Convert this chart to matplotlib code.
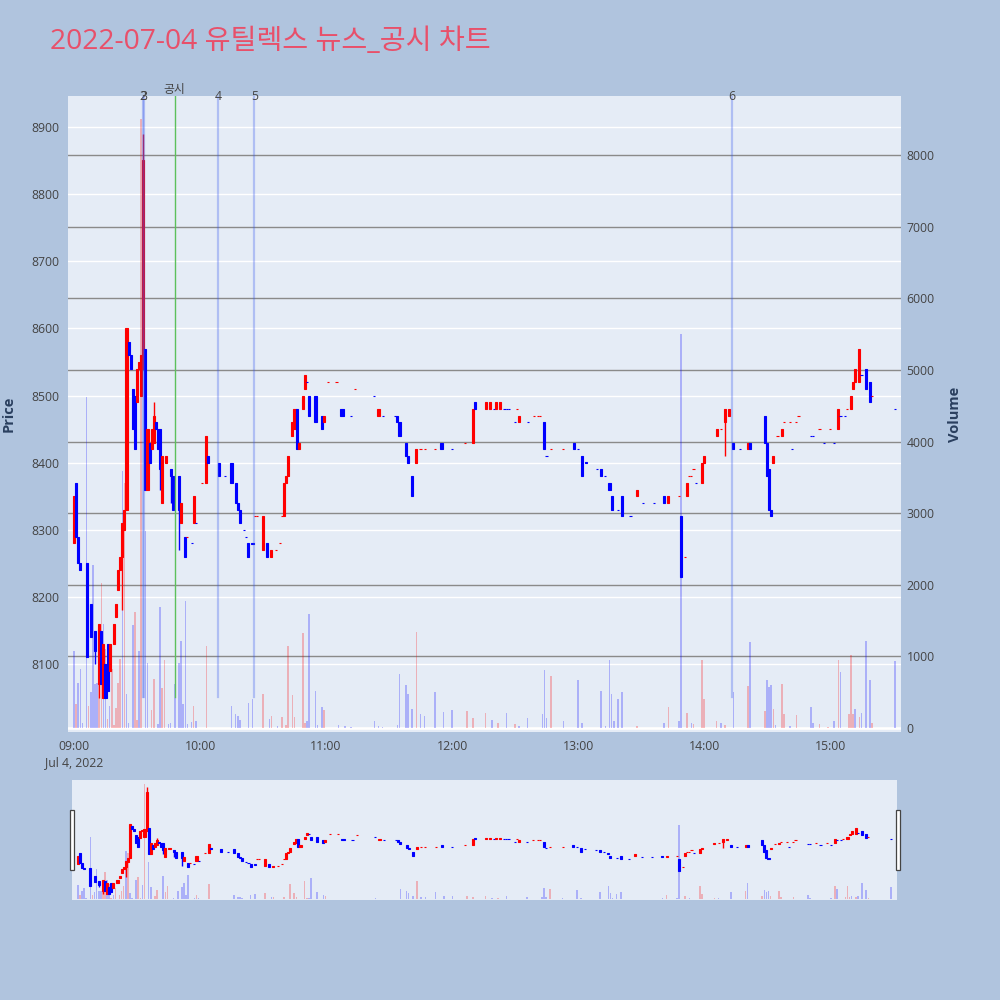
import matplotlib
matplotlib.use("Agg")
import matplotlib.pyplot as plt
from matplotlib import transforms
from matplotlib.patches import Rectangle

plt.rcParams['font.family'] = ['Open Sans', 'Noto Sans CJK KR', 'DejaVu Sans']

title = "2022-07-04 유틸렉스 뉴스_공시 차트"

# candle data: minutes after 09:00
minutes = [0, 1, 2, 3, 6, 8, 10, 12, 13, 14,
           15, 16, 17, 19, 20, 21, 22, 23, 24, 25,
           26, 27, 28, 29, 30, 31, 32, 33, 34, 35,
           36, 37, 38, 39, 40, 41, 42, 44, 46, 47,
           50, 51, 53, 54, 56, 57, 58, 61, 63, 64,
           69, 72, 75, 77, 78, 79, 81, 82, 83, 85,
           86, 87, 90, 92, 94, 96, 98, 99, 100, 101,
           102, 104, 105, 106, 107, 109, 110, 111, 112, 115,
           118, 119, 121, 125, 127, 128, 132, 134, 143, 145,
           147, 153, 154, 155, 158, 159, 161, 163, 165, 167,
           172, 175, 180, 186, 190, 191, 196, 198, 200, 201,
           203, 205, 206, 207, 210, 211, 212, 216, 219, 221,
           222, 224, 225, 227, 233, 238, 240, 242, 244, 249,
           251, 253, 255, 256, 259, 261, 265, 268, 271, 276,
           281, 283, 288, 289, 291, 292, 293, 294, 295, 296,
           299, 300, 306, 308, 310, 312, 314, 317, 321, 322,
           329, 330, 331, 332, 333, 335, 337, 338, 341, 342,
           344, 345, 351, 352, 355, 357, 360, 362, 364, 365,
           367, 368, 370, 371, 372, 374, 375, 377, 379, 380,
           391]
opens = [8280, 8370, 8290, 8250, 8250, 8190, 8150, 8070, 8150, 8050,
         8100, 8130, 8090, 8130, 8170, 8210, 8240, 8260, 8300, 8330,
         8580, 8560, 8510, 8500, 8490, 8540, 8500, 8540, 8570, 8360,
         8430, 8420, 8430, 8460, 8450, 8450, 8340, 8400, 8390, 8380,
         8380, 8310, 8290, 8290, 8280, 8310, 8310, 8370, 8370, 8410,
         8400, 8380, 8400, 8370, 8340, 8330, 8300, 8290, 8280, 8281,
         8320, 8320, 8270, 8280, 8260, 8270, 8280, 8320, 8320, 8370,
         8380, 8440, 8450, 8480, 8420, 8480, 8510, 8520, 8500, 8500,
         8470, 8460, 8520, 8520, 8480, 8480, 8470, 8510, 8500, 8470,
         8470, 8470, 8470, 8460, 8430, 8410, 8380, 8400, 8420, 8420,
         8420, 8430, 8420, 8430, 8430, 8490, 8480, 8480, 8480, 8480,
         8480, 8480, 8480, 8480, 8460, 8480, 8460, 8460, 8470, 8470,
         8470, 8460, 8410, 8420, 8420, 8430, 8420, 8410, 8401, 8390,
         8390, 8380, 8370, 8350, 8330, 8350, 8320, 8350, 8340, 8340,
         8350, 8340, 8350, 8320, 8260, 8350, 8380, 8380, 8390, 8370,
         8370, 8400, 8440, 8450, 8460, 8470, 8430, 8420, 8420, 8430,
         8470, 8430, 8390, 8330, 8400, 8440, 8440, 8460, 8460, 8420,
         8460, 8470, 8440, 8440, 8450, 8430, 8450, 8430, 8450, 8470,
         8470, 8480, 8480, 8510, 8520, 8520, 8530, 8540, 8520, 8500,
         8480]
highs = [8350, 8370, 8290, 8250, 8250, 8190, 8150, 8160, 8150, 8130,
         8100, 8130, 8130, 8160, 8190, 8240, 8260, 8310, 8330, 8600,
         8580, 8560, 8510, 8500, 8540, 8550, 8560, 8890, 8570, 8450,
         8430, 8450, 8490, 8460, 8450, 8450, 8410, 8410, 8390, 8380,
         8380, 8340, 8290, 8290, 8280, 8350, 8310, 8370, 8440, 8410,
         8400, 8380, 8400, 8370, 8340, 8330, 8300, 8290, 8280, 8281,
         8320, 8320, 8320, 8280, 8270, 8270, 8280, 8320, 8370, 8380,
         8410, 8460, 8480, 8480, 8430, 8500, 8530, 8520, 8500, 8500,
         8470, 8470, 8520, 8520, 8480, 8480, 8470, 8510, 8500, 8480,
         8470, 8470, 8470, 8460, 8430, 8410, 8380, 8420, 8420, 8420,
         8420, 8430, 8420, 8430, 8480, 8490, 8490, 8490, 8480, 8490,
         8490, 8480, 8480, 8480, 8460, 8480, 8470, 8460, 8470, 8470,
         8470, 8460, 8410, 8420, 8420, 8430, 8420, 8410, 8401, 8390,
         8390, 8380, 8370, 8350, 8330, 8350, 8320, 8360, 8340, 8340,
         8350, 8350, 8350, 8320, 8260, 8370, 8380, 8380, 8390, 8370,
         8400, 8410, 8450, 8450, 8480, 8480, 8430, 8420, 8430, 8430,
         8470, 8430, 8390, 8330, 8410, 8440, 8450, 8460, 8460, 8420,
         8460, 8470, 8440, 8440, 8450, 8430, 8450, 8430, 8480, 8470,
         8470, 8480, 8500, 8520, 8540, 8570, 8530, 8540, 8520, 8500,
         8480]
lows = [8280, 8290, 8250, 8240, 8110, 8140, 8100, 8050, 8070, 8050,
        8050, 8060, 8090, 8130, 8170, 8210, 8240, 8180, 8300, 8330,
        8560, 8540, 8450, 8420, 8490, 8540, 8500, 8540, 8360, 8360,
        8400, 8420, 8430, 8450, 8420, 8360, 8340, 8400, 8340, 8330,
        8270, 8310, 8260, 8290, 8280, 8310, 8310, 8370, 8370, 8400,
        8380, 8380, 8370, 8340, 8330, 8310, 8300, 8290, 8260, 8279,
        8320, 8320, 8270, 8260, 8260, 8270, 8280, 8320, 8320, 8370,
        8380, 8440, 8450, 8420, 8420, 8480, 8510, 8520, 8470, 8460,
        8450, 8460, 8520, 8520, 8470, 8470, 8470, 8510, 8500, 8470,
        8470, 8470, 8460, 8440, 8410, 8400, 8350, 8400, 8420, 8420,
        8420, 8420, 8420, 8430, 8430, 8480, 8480, 8480, 8480, 8480,
        8480, 8480, 8480, 8480, 8460, 8480, 8460, 8460, 8470, 8470,
        8470, 8420, 8410, 8420, 8420, 8420, 8420, 8380, 8399, 8390,
        8380, 8380, 8360, 8330, 8330, 8320, 8320, 8350, 8340, 8340,
        8340, 8340, 8350, 8230, 8260, 8350, 8380, 8380, 8390, 8370,
        8370, 8400, 8440, 8450, 8410, 8470, 8420, 8420, 8420, 8420,
        8430, 8380, 8330, 8320, 8400, 8440, 8440, 8460, 8460, 8420,
        8460, 8470, 8440, 8440, 8450, 8430, 8450, 8430, 8450, 8470,
        8470, 8480, 8480, 8510, 8520, 8520, 8530, 8510, 8490, 8500,
        8480]
closes = [8350, 8290, 8250, 8240, 8110, 8140, 8120, 8160, 8070, 8130,
          8050, 8060, 8130, 8160, 8190, 8240, 8260, 8310, 8330, 8600,
          8560, 8540, 8450, 8420, 8540, 8550, 8560, 8850, 8360, 8450,
          8400, 8450, 8470, 8450, 8420, 8390, 8410, 8410, 8380, 8330,
          8330, 8340, 8260, 8290, 8280, 8350, 8310, 8370, 8440, 8400,
          8380, 8380, 8370, 8340, 8330, 8310, 8300, 8290, 8260, 8279,
          8320, 8320, 8320, 8260, 8270, 8270, 8280, 8320, 8370, 8380,
          8410, 8460, 8480, 8420, 8430, 8500, 8530, 8520, 8470, 8460,
          8450, 8470, 8520, 8520, 8470, 8470, 8470, 8510, 8500, 8480,
          8470, 8470, 8460, 8440, 8410, 8400, 8350, 8420, 8420, 8420,
          8420, 8420, 8420, 8430, 8480, 8480, 8490, 8490, 8480, 8490,
          8490, 8480, 8480, 8480, 8460, 8480, 8470, 8460, 8470, 8470,
          8470, 8420, 8410, 8420, 8420, 8420, 8420, 8380, 8399, 8390,
          8380, 8380, 8360, 8330, 8330, 8320, 8320, 8360, 8340, 8340,
          8340, 8350, 8350, 8230, 8260, 8370, 8380, 8380, 8390, 8370,
          8400, 8410, 8450, 8450, 8480, 8480, 8420, 8420, 8430, 8420,
          8430, 8380, 8330, 8320, 8410, 8440, 8450, 8460, 8460, 8420,
          8460, 8470, 8440, 8440, 8450, 8430, 8450, 8430, 8480, 8470,
          8470, 8480, 8500, 8520, 8540, 8570, 8530, 8510, 8490, 8500,
          8480]

# volume data
vol_minutes = [0, 1, 2, 3, 4, 6, 7, 8, 9, 10,
               11, 12, 13, 14, 15, 16, 17, 18, 19, 20,
               21, 22, 23, 24, 25, 26, 28, 29, 30, 31,
               32, 34, 35, 37, 38, 40, 41, 42, 43, 45,
               46, 48, 50, 51, 52, 53, 54, 56, 57, 58,
               63, 75, 77, 78, 79, 83, 85, 90, 93, 94,
               97, 99, 101, 102, 104, 105, 109, 110, 111, 112,
               115, 116, 118, 119, 126, 129, 132, 143, 145, 147,
               154, 155, 158, 159, 161, 163, 165, 167, 172, 176,
               180, 187, 190, 196, 199, 202, 206, 210, 212, 216,
               223, 224, 225, 227, 233, 240, 242, 251, 253, 255,
               256, 257, 259, 261, 268, 281, 283, 288, 289, 292,
               294, 295, 299, 300, 306, 308, 310, 314, 321, 322,
               329, 330, 331, 332, 333, 334, 337, 338, 341, 344,
               351, 352, 355, 359, 362, 364, 365, 369, 370, 371,
               372, 374, 375, 377, 379, 380, 391]
vol_values = [1075, 330, 632, 828, 65, 4620, 307, 502, 2274, 609,
              632, 912, 2019, 1447, 1098, 121, 307, 819, 37, 284,
              632, 967, 3586, 3423, 470, 74, 1432, 1619, 112, 1074,
              8500, 2750, 912, 255, 679, 50, 1688, 553, 944, 50,
              74, 609, 912, 1214, 330, 1772, 50, 84, 307, 98,
              1144, 307, 191, 167, 112, 344, 400, 470, 130, 167,
              30, 158, 37, 1144, 456, 158, 1330, 74, 102, 1595,
              516, 37, 298, 251, 42, 30, 20, 98, 30, 20,
              37, 749, 595, 470, 270, 1340, 200, 167, 502, 228,
              251, 242, 144, 205, 112, 74, 205, 50, 30, 144,
              191, 809, 144, 726, 98, 665, 74, 516, 30, 944,
              470, 98, 400, 502, 30, 74, 293, 98, 5502, 214,
              65, 50, 944, 400, 98, 65, 37, 502, 586, 1200,
              237, 665, 572, 595, 260, 37, 609, 191, 30, 181,
              298, 74, 50, 20, 98, 944, 781, 191, 1014, 191,
              270, 153, 205, 1214, 665, 74, 935]
vol_up = [0, 1, 0, 0, 0, 0, 1, 0, 0, 0,
          0, 1, 1, 0, 0, 1, 0, 1, 1, 1,
          1, 1, 0, 1, 0, 0, 0, 1, 1, 0,
          1, 0, 0, 1, 1, 0, 0, 1, 1, 0,
          0, 0, 0, 0, 0, 0, 0, 0, 1, 0,
          1, 0, 0, 0, 0, 0, 0, 1, 0, 1,
          0, 1, 1, 1, 1, 1, 1, 1, 0, 0,
          0, 0, 0, 1, 0, 0, 0, 0, 0, 0,
          0, 0, 0, 0, 0, 1, 0, 0, 0, 0,
          0, 1, 1, 1, 0, 1, 0, 1, 0, 0,
          0, 0, 0, 1, 0, 0, 0, 0, 0, 0,
          0, 0, 0, 0, 1, 0, 1, 0, 0, 1,
          0, 1, 1, 1, 1, 0, 1, 0, 1, 0,
          1, 0, 0, 0, 1, 0, 1, 1, 0, 1,
          0, 0, 1, 1, 0, 1, 0, 1, 1, 1,
          0, 1, 0, 0, 0, 1, 0]

# event markers (minutes after 09:00)
event_minutes = [32.8, 33.3, 68.8, 85.9, 313.3]
event_labels = ["2", "3", "4", "5", "6"]
notice_minute = 47.9
notice_label = "공시"

hour_ticks = [0, 60, 120, 180, 240, 300, 360]
hour_labels = ["09:00\nJul 4, 2022", "10:00", "11:00", "12:00", "13:00", "14:00", "15:00"]
price_ticks = [8100, 8200, 8300, 8400, 8500, 8600, 8700, 8800, 8900]
volume_ticks = [0, 1000, 2000, 3000, 4000, 5000, 6000, 7000, 8000]

XLIM = (-2.86, 393.8)
PLIM = (7999, 8946)
VLIM = (-56, 8824)
RED = '#FF0000'
BLUE = '#0000FF'
BG = '#E5ECF6'
TXT = '#444444'


def directions():
    ups = []
    prev_c = None
    prev_up = True
    for o, c in zip(opens, closes):
        if c > o:
            up = True
        elif c < o:
            up = False
        else:
            if prev_c is not None and c != prev_c:
                up = c > prev_c
            else:
                up = prev_up
        ups.append(up)
        prev_c = c
        prev_up = up
    return ups


def draw(ax_p, ax_v):
    ups = directions()
    for m, v, u in zip(vol_minutes, vol_values, vol_up):
        ax_v.bar(m, v, width=0.75, color=RED if u else BLUE, alpha=0.25,
                 linewidth=0, zorder=2)
    for m, o, h, l, c, up in zip(minutes, opens, highs, lows, closes, ups):
        col = RED if up else BLUE
        ax_p.vlines(m, l, h, color=col, linewidth=1.0, zorder=3)
        ax_p.bar(m, c - o, bottom=o, width=1.0, color=col, edgecolor=col,
                 linewidth=0.8, zorder=4)
    ax_p.set_xlim(*XLIM)
    ax_p.set_ylim(*PLIM)
    ax_v.set_xlim(*XLIM)
    ax_v.set_ylim(*VLIM)


fig = plt.figure(figsize=(10, 10), dpi=100, facecolor='#B0C4DE')

ax_v = fig.add_axes([0.068, 0.268, 0.833, 0.636], facecolor=BG)
ax_p = ax_v.twinx()
ax_p.patch.set_visible(False)
ax_v.set_zorder(1)
ax_p.set_zorder(2)

draw(ax_p, ax_v)

# grids
for t in volume_ticks:
    ax_v.axhline(t, color='#8a8a8a', linewidth=1.0, zorder=1)
ax_v.axhline(0, color='white', linewidth=2.0, zorder=1.5)
blend = transforms.blended_transform_factory(ax_v.transAxes, ax_p.transData)
for t in price_ticks:
    ax_v.plot([0, 1], [t, t], transform=blend, color='white', linewidth=1.0,
              zorder=0.9)

for a in (ax_v, ax_p):
    for s in a.spines.values():
        s.set_visible(False)
    a.tick_params(length=0, colors=TXT, labelsize=8.8)

ax_v.yaxis.tick_right()
ax_v.set_yticks(volume_ticks)
ax_v.set_yticklabels([str(t) for t in volume_ticks])
ax_v.tick_params(axis='y', pad=4)
ax_p.yaxis.tick_left()
ax_p.set_yticks(price_ticks)
ax_p.set_yticklabels([str(t) for t in price_ticks])
ax_p.tick_params(axis='y', pad=6)
ax_v.set_xticks(hour_ticks)
ax_v.set_xticklabels(hour_labels, linespacing=1.25)
ax_v.tick_params(axis='x', pad=6)

# event lines
top_tf = transforms.blended_transform_factory(ax_p.transData, ax_p.transAxes)
for m, lab in zip(event_minutes, event_labels):
    ax_p.axvline(m, ymin=0.055, ymax=1.0, color='#3355ee', alpha=0.3,
                 linewidth=1.6, zorder=5)
    ax_p.text(m, 1.0, lab, transform=top_tf, ha='center', va='center',
              fontsize=8.8, color=TXT, zorder=6)
ax_p.axvline(notice_minute, ymin=0.055, ymax=1.0, color='#5cc05c', alpha=1.0,
             linewidth=1.0, zorder=5)
ax_p.text(notice_minute, 1.011, notice_label, transform=top_tf,
          ha='center', va='center', fontsize=8.5, color=TXT, zorder=6)

# axis titles
fig.text(0.009, 0.586, 'Price', rotation=90, ha='center', va='center',
         fontsize=10.5, fontweight='bold', color='#2a3f5f')
fig.text(0.955, 0.586, 'Volume', rotation=90, ha='center', va='center',
         fontsize=10.5, fontweight='bold', color='#2a3f5f')

# title
fig.text(0.05, 0.958, title, ha='left', va='center', fontsize=20.3,
         color='#E8506A')

# range slider
sv = fig.add_axes([0.072, 0.10, 0.825, 0.12], facecolor=BG)
sp = sv.twinx()
sp.patch.set_visible(False)
draw(sp, sv)
for a in (sv, sp):
    a.set_xticks([])
    a.set_yticks([])
    for s in a.spines.values():
        s.set_visible(False)

for x0 in (0.0695, 0.8955):
    fig.patches.append(Rectangle((x0, 0.13), 0.0042, 0.06, transform=fig.transFigure,
                                 facecolor='white', edgecolor='#444444',
                                 linewidth=0.9, zorder=10))

fig.savefig('out.png', dpi=100, facecolor=fig.get_facecolor())
